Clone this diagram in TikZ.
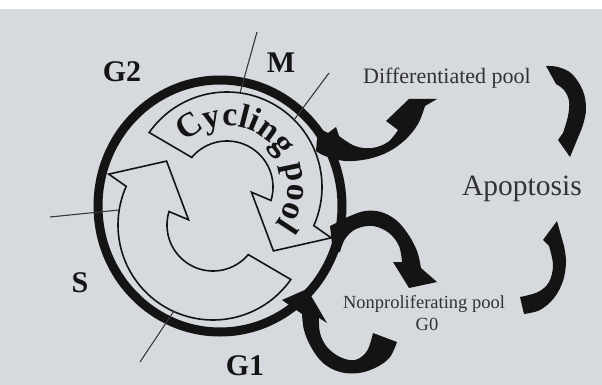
\documentclass[tikz,border=0pt]{standalone}
\usepackage{fontspec}
\setmainfont{Liberation Serif}
\usetikzlibrary{decorations.text}
\definecolor{bg}{RGB}{214,217,221}
\definecolor{ink}{RGB}{20,20,20}
\definecolor{lbl}{RGB}{50,50,52}
\begin{document}
\begin{tikzpicture}[x=1pt,y=-1pt,
  bandline/.style={draw=ink,line width=1.6pt,line join=miter},
  tickline/.style={draw=ink!85,line width=1.1pt},
  phase/.style={font=\bfseries\fontsize{30}{30}\selectfont,text=ink,inner sep=0pt,anchor=base},
  pool/.style={text=lbl,inner sep=0pt,anchor=base},
  blob/.style={fill=ink},
  cyclearrow/.pic={
    \draw[bandline] plot[domain=145:-24,samples=70] ({7+95*cos(\x)},{-19-95*sin(\x)})
      -- ({7+116*cos(-26)},{-19-116*sin(-26)})
      -- ({7+79*cos(-54)},{-19-79*sin(-54)})
      -- ({7+25*cos(-12)},{-19-25*sin(-12)})
      -- ({7+46*cos(-17)},{-19-46*sin(-17)})
      -- plot[domain=-17:140,samples=50] ({7+46*cos(\x)},{-19-46*sin(\x)}) -- cycle;
  }]
\useasboundingbox (0,0) rectangle (602,385);
\fill[bg] (0,0) rectangle (602,385);
\fill[white] (0,0) rectangle (602,9);

% inner block arrows
\pic at (220,206) {cyclearrow};
\pic[rotate=180] at (220,206) {cyclearrow};
\path[decorate,decoration={text along path,text align=center,
  text={|\bfseries\fontsize{34}{34}\selectfont\color{ink}|Cycling pool}}]
  plot[domain=143:-47,samples=90] ({227+61*cos(\x)},{187-61*sin(\x)});

% thick cell-cycle circle
\draw[ink,line width=9pt] (220,206) ellipse[x radius=122,y radius=126];

% phase boundaries
\coordinate (t1a) at (240,93);  \coordinate (t1b) at (257,32);
\coordinate (t2a) at (294,120); \coordinate (t2b) at (329,73);
\coordinate (t3a) at (119,210); \coordinate (t3b) at (50,217);
\coordinate (t4a) at (174,311); \coordinate (t4b) at (140,362);
\draw[tickline] (t1a) -- (t1b);
\draw[tickline] (t2a) -- (t2b);
\draw[tickline] (t3a) -- (t3b);
\draw[tickline] (t4a) -- (t4b);

% phase labels
\node[phase] (g2) at (122,82) {G2};
\node[phase] (m) at (281,73) {M};
\node[phase] (s) at (80,292) {S};
\node[phase] (g1) at (245,375) {G1};

% pool labels
\node[pool,font=\fontsize{22}{22}\selectfont] (diff) at (447,84) {Differentiated pool};
\node[pool,font=\fontsize{29.5}{29.5}\selectfont] (apop) at (522,195) {Apoptosis};
\node[pool,font=\fontsize{18.5}{18.5}\selectfont] (nonp) at (424,308) {Nonproliferating pool};
\node[pool,font=\fontsize{18.5}{18.5}\selectfont] (g0) at (427,330) {G0};

% black curved arrows
% to differentiated pool
\fill[blob] (318,128) -- (328,133) -- (336,127) -- (339,136)
  -- plot[smooth,tension=0.6] coordinates {(339,136) (355,146) (372,148) (388,142) (398,130)}
  -- (386,121) -- (409,99) -- (437,99) -- (425,106)
  -- plot[smooth,tension=0.6] coordinates {(425,106) (418,124) (405,140) (388,152) (368,159) (345,161) (325,156) (316,151)}
  -- cycle;
% to nonproliferating pool
\fill[blob] (330,226)
  -- plot[smooth,tension=0.6] coordinates {(338,222) (350,216) (365,211) (381,212) (396,220) (408,234) (417,251) (421,268)}
  -- (437,282) -- (409,288) -- (393,262) -- (402,262)
  -- plot[smooth,tension=0.6] coordinates {(402,262) (399,246) (389,233) (373,226) (356,229) (345,239) (340,252)}
  -- (333,253) -- cycle;
% from G0 back to cycle
\fill[blob] (373,333) -- (397,342)
  -- plot[smooth,tension=0.6] coordinates {(397,342) (390,357) (377,367) (359,373) (340,372) (323,363) (311,347) (304,330) (302,314)}
  -- (282,300) -- (307,289) -- (327,323) -- (319,318)
  -- plot[smooth,tension=0.6] coordinates {(319,318) (320,333) (327,347) (340,357) (355,360) (367,351) (373,333)}
  -- cycle;
% differentiated to apoptosis
\fill[blob] (546,66)
  -- plot[smooth,tension=0.6] coordinates {(546,66) (558,67) (572,74) (583,91) (586,110) (582,128)}
  -- (570,157) -- (558,140) -- (563,133)
  -- plot[smooth,tension=0.6] coordinates {(563,133) (568,116) (569,101) (564,90) (556,84)}
  -- cycle;
% nonproliferating to apoptosis
\fill[blob] (520,297) -- (524,314)
  -- plot[smooth,tension=0.6] coordinates {(524,314) (540,310) (554,298) (563,281) (566,262) (564,246)}
  -- (557,221) -- (543,240) -- (549,246)
  -- plot[smooth,tension=0.6] coordinates {(549,246) (553,265) (549,282) (538,292) (520,297)}
  -- cycle;
\end{tikzpicture}
\end{document}
